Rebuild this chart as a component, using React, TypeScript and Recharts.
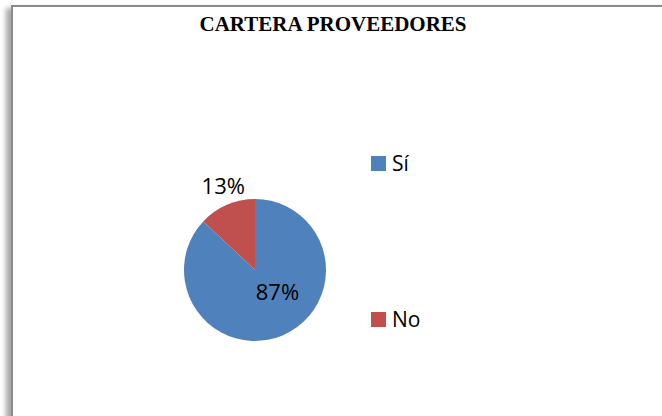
import { PieChart, Pie, Cell, Legend } from "recharts";

// Cartera proveedores: share of suppliers (Sí / No)
const CATEGORIES = ["Sí", "No"];
const VALUES = [87, 13];
const COLORS = ["#4F81BD", "#C0504D"];

const data = CATEGORIES.map((name, i) => ({ name, value: VALUES[i] }));

const RAD = Math.PI / 180;
const SANS = "'Open Sans', 'Liberation Sans', sans-serif";

// Excel-like data labels: big slice inside, small slice outside end
function renderLabel(props: any) {
  const { cx, cy, outerRadius, midAngle, percent } = props;
  const inside = percent > 0.5;
  const ang = inside ? midAngle + 24 : midAngle - 3;
  const r = inside ? outerRadius * 0.43 : outerRadius + 20;
  const x = cx + r * Math.cos(-ang * RAD);
  const y = cy + r * Math.sin(-ang * RAD);
  return (
    <text x={x} y={y} fill="#000" fontSize={22} fontFamily={SANS} textAnchor="middle" dominantBaseline="central">
      {Math.round(percent * 100)}%
    </text>
  );
}

function LegendContent({ payload }: any) {
  const items = [...(payload || [])].sort((a: any, b: any) => CATEGORIES.indexOf(a.value) - CATEGORIES.indexOf(b.value));
  return (
    <div style={{ position: "relative", width: 120, height: 200 }}>
      {items.map((p: any, i: number) => (
        <div key={p.value} style={{ position: "absolute", left: 0, top: i * 156, display: "flex", alignItems: "center", height: 16 }}>
          <span style={{ display: "inline-block", width: 15, height: 15, background: p.color }} />
          <span style={{ marginLeft: 6, fontFamily: SANS, fontSize: 21, color: "#000", lineHeight: "16px" }}>{p.value}</span>
        </div>
      ))}
    </div>
  );
}

export default function App() {
  return (
    <div style={{ position: "fixed", left: 0, top: 0, width: 662, height: 416, overflow: "hidden", background: "#fff" }}>
      <div style={{
        position: "absolute", left: 11, top: 5, width: 720, height: 480,
        borderTop: "2px solid #8a8a8a", borderLeft: "2px solid #8a8a8a",
        boxShadow: "-5px 3px 5px rgba(0,0,0,0.35)", background: "#fff",
      }} />
      <div style={{
        position: "absolute", left: 0, top: 14, width: 666, textAlign: "center",
        fontFamily: "'Liberation Serif', 'Times New Roman', serif", fontWeight: "bold", fontSize: 21, lineHeight: "21px", color: "#000",
      }}>
        CARTERA PROVEEDORES
      </div>
      <div style={{ position: "absolute", left: 0, top: 0 }}>
        <PieChart width={662} height={416} margin={{ top: 0, right: 0, bottom: 0, left: 0 }}>
          <Pie data={data} dataKey="value" nameKey="name" cx={255} cy={270} outerRadius={71}
            startAngle={90} endAngle={-270} stroke="none" label={renderLabel} labelLine={false}
            isAnimationActive={false}>
            {data.map((_, i) => <Cell key={i} fill={COLORS[i]} />)}
          </Pie>
          <Legend content={<LegendContent />} wrapperStyle={{ position: "absolute", left: 371, top: 155, width: 120 }} />
        </PieChart>
      </div>
    </div>
  );
}
